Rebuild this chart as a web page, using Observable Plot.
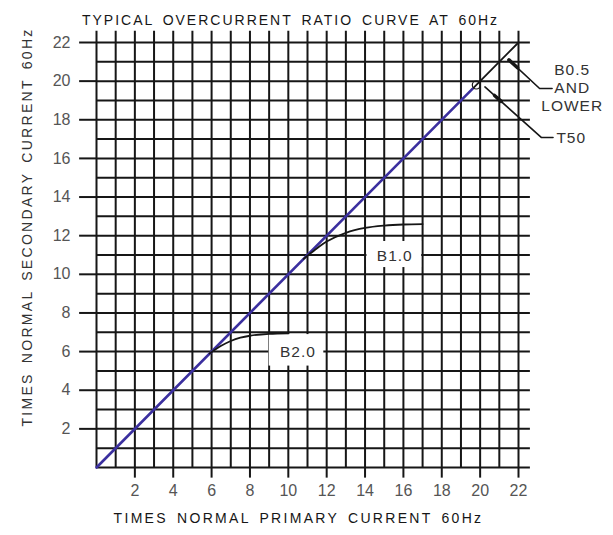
<!DOCTYPE html>
<html>
<head>
<meta charset="utf-8">
<script src="https://cdn.jsdelivr.net/npm/d3@7"></script>
<script src="https://cdn.jsdelivr.net/npm/@observablehq/plot@0.6"></script>
<style>
  html, body { margin: 0; padding: 0; background: #fff; }
  svg { font-family: "Liberation Sans", Arial, sans-serif; }
</style>
</head>
<body>
<div id="chart"></div>
<script>
// ---- data ----
const gridValues = d3.range(0, 23);           // grid lines every 1 unit
const tickValues = [2, 4, 6, 8, 10, 12, 14, 16, 18, 20, 22];
const ratioPrimary = [0, 19.6];               // ideal 1:1 ratio line (blue part)
const ratioSecondary = [0, 19.6];
const ratioTopPrimary = [19.6, 22];           // continuation (black part)
const ratioTopSecondary = [19.6, 22];
const b1Primary = [10.8, 11.5, 12, 13, 14, 15, 16, 17];
const b1Secondary = [10.8, 11.35, 11.7, 12.15, 12.4, 12.52, 12.58, 12.6];
const b2Primary = [5.9, 6.5, 7, 7.5, 8, 9, 10];
const b2Secondary = [5.9, 6.3, 6.55, 6.72, 6.82, 6.92, 6.95];
const titleText = "TYPICAL OVERCURRENT RATIO CURVE AT 60Hz";
const xLabel = "TIMES NORMAL PRIMARY CURRENT 60Hz";
const yLabel = "TIMES NORMAL SECONDARY CURRENT 60Hz";
const curveLabels = ["B1.0", "B2.0"];
const b05Label = ["B0.5", "AND", "LOWER"];
const t50Label = "T50";

// ---- build tables ----
const zip = (xs, ys) => xs.map((x, i) => ({x, y: ys[i]}));
const ratioLine = zip(ratioPrimary, ratioSecondary);
const ratioTop = zip(ratioTopPrimary, ratioTopSecondary);
const b1 = zip(b1Primary, b1Secondary);
const b2 = zip(b2Primary, b2Secondary);

// annotation placement
const boxes = [
  {x1: 14.1, x2: 16.95, y1: 10.35, y2: 11.7},
  {x1: 9.0, x2: 11.85, y1: 5.25, y2: 6.88}
];
const labelPos = [
  {x: 15.55, y: 10.95, t: curveLabels[0]},
  {x: 10.5, y: 6.0, t: curveLabels[1]}
];
const b05Leader = [{x: 21.5, y: 21.1}, {x: 23.1, y: 19.62}, {x: 23.75, y: 19.62}];
const t50Leader = [{x: 20.25, y: 19.7}, {x: 23.2, y: 17.08}, {x: 23.8, y: 17.08}];
const b05Text = b05Label.map((t, i) => ({x: 24.8, y: 20.55 - i * 0.92, t}));

const ink = "#161616";
const plot = Plot.plot({
  width: 613,
  height: 535,
  marginLeft: 96,
  marginRight: 95,
  marginTop: 42,
  marginBottom: 68,
  style: {fontFamily: "'Liberation Sans', Arial, sans-serif", background: "#fff"},
  x: {domain: [0, 22]},
  y: {domain: [0, 22]},
  marks: [
    // grid
    Plot.ruleX(gridValues, {x: d => d, y1: 0, y2: 22.58, stroke: ink, strokeWidth: 2}),
    Plot.ruleY(gridValues, {y: d => d, x1: 0, x2: 22.62, stroke: ink, strokeWidth: 2}),
    // outward even ticks
    Plot.ruleX(tickValues, {x: d => d, y1: 0, y2: -0.55, stroke: ink, strokeWidth: 2}),
    Plot.ruleY(tickValues, {y: d => d, x1: -0.88, x2: 0, stroke: ink, strokeWidth: 2}),
    // label boxes
    Plot.rect(boxes, {x1: "x1", x2: "x2", y1: "y1", y2: "y2", fill: "#fff"}),
    // curves
    Plot.line(ratioTop, {x: "x", y: "y", stroke: ink, strokeWidth: 1.8}),
    Plot.line(ratioLine, {x: "x", y: "y", stroke: "#3b2f9f", strokeWidth: 2.6}),
    Plot.line(b1, {x: "x", y: "y", curve: "catmull-rom", stroke: ink, strokeWidth: 1.8}),
    Plot.line(b2, {x: "x", y: "y", curve: "catmull-rom", stroke: ink, strokeWidth: 1.8}),
    Plot.dot([{x: 19.8, y: 19.8}], {x: "x", y: "y", r: 4, stroke: ink, strokeWidth: 1.2, fill: "none"}),
    // leaders
    Plot.line(b05Leader, {x: "x", y: "y", stroke: ink, strokeWidth: 1.6}),
    Plot.line(t50Leader, {x: "x", y: "y", stroke: ink, strokeWidth: 1.6}),
    Plot.line([b05Leader[0], {x: 21.95, y: 20.69}], {x: "x", y: "y", stroke: ink, strokeWidth: 3.5}),
    Plot.line([{x: 20.75, y: 19.26}, {x: 21.1, y: 18.95}], {x: "x", y: "y", stroke: ink, strokeWidth: 3.5}),
    // curve labels
    Plot.text(labelPos, {x: "x", y: "y", text: "t", fontSize: 15.5, fill: "#333"}),
    Plot.text(b05Text, {x: "x", y: "y", text: "t", fontSize: 15.5, fill: "#333"}),
    Plot.text([{x: 24.75, y: 17.08, t: t50Label}], {x: "x", y: "y", text: "t", fontSize: 15.5, fill: "#333"}),
    // axes
    Plot.axisX({ticks: tickValues, tickSize: 0, tickPadding: 17, fontSize: 16, label: null, color: "#555"}),
    Plot.axisY({ticks: tickValues, tickSize: 0, tickPadding: 26, fontSize: 16, label: null, color: "#555"}),
    // titles
    Plot.text([titleText], {frameAnchor: "top", dx: -17, dy: -27, fontSize: 14, fill: ink}),
    Plot.text([xLabel], {frameAnchor: "bottom", dx: -9, dy: 55, fontSize: 14, fill: ink}),
    Plot.text([{x: -3.6, y: 12.45, t: yLabel}], {x: "x", y: "y", text: "t", rotate: -90, fontSize: 14, fill: "#333"})
  ]
});
document.getElementById("chart").appendChild(plot);

// letter spacing for the wide-set drafting lettering
const spacing = new Map([
  [titleText, "2px"], [xLabel, "2.3px"], [yLabel, "2.3px"],
  ["B1.0", "1px"], ["B2.0", "1px"], ["B0.5", "1px"], ["AND", "1px"], ["LOWER", "1px"], ["T50", "1px"]
]);
const tickStrings = new Set(tickValues.map(String));
d3.select(plot).selectAll("text").each(function () {
  const s = spacing.get(this.textContent);
  if (s) d3.select(this).style("letter-spacing", s).style("word-spacing", "3px");
  if (tickStrings.has(this.textContent)) d3.select(this).style("font-size", "16px");
});
</script>
</body>
</html>
